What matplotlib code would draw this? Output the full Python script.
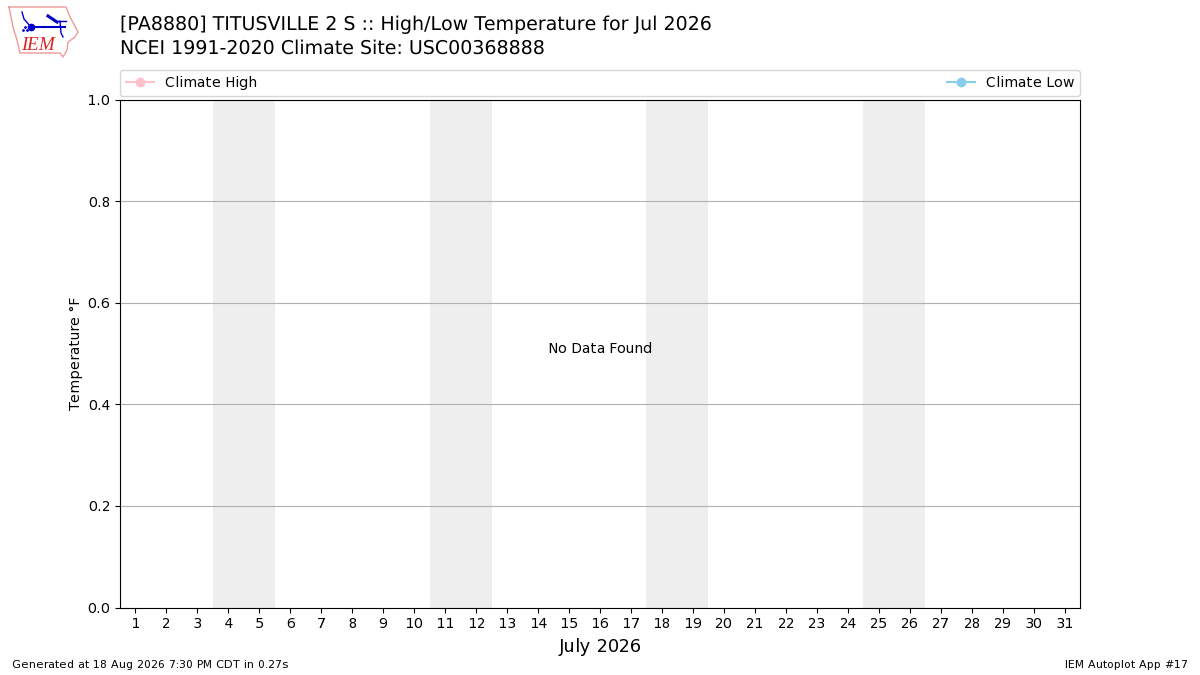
import matplotlib
matplotlib.use("Agg")
import matplotlib.pyplot as plt
from matplotlib.text import Text

plt.rcParams["text.hinting"] = "force_autohint"
plt.rcParams["text.hinting_factor"] = 1

title_lines = ["[PA8880] TITUSVILLE 2 S :: High/Low Temperature for Jul 2026",
               "NCEI 1991-2020 Climate Site: USC00368888"]
days = list(range(1, 32))
weekend_starts = [4, 11, 18, 25]
y_ticks = [0.0, 0.2, 0.4, 0.6, 0.8, 1.0]
series_names = ["Climate High", "Climate Low"]
series_colors = ["pink", "skyblue"]
series_values = [[], []]


class UnhintedText(Text):
    def draw(self, renderer):
        with plt.rc_context({"text.hinting": "no_hinting"}):
            super().draw(renderer)


fig = plt.figure(figsize=(12, 6.75), dpi=100)
ax = fig.add_axes([120/1200, 67.45/675, 960/1200, 507.8/675])

for s in weekend_starts:
    ax.axvspan(s-0.5, s+1.5, color="#eeeeee", lw=0, zorder=0)

for name, color, vals in zip(series_names, series_colors, series_values):
    ax.plot(days[:len(vals)], vals, marker="o", color=color, label=name)

ax.set_xlim(0.5, 31.5)
ax.set_ylim(0, 1)
ax.set_xticks(days)
ax.set_yticks(y_ticks)
ax.grid(axis="y", color="#b0b0b0", lw=0.8)
ax.set_axisbelow(True)
ax.set_xlabel("July 2026", fontsize=12.9, labelpad=4.5)
ax.set_ylabel("Temperature \u00b0F", labelpad=3, fontsize=9.8)
ax.text(600, 675-349, "No Data Found", transform=None, ha="center", va="center", fontsize=10)
ax.legend(loc="lower left", bbox_to_anchor=(0, 1.0075, 1, 0.05), ncol=2, mode="expand",
          borderaxespad=0, borderpad=0.43, fontsize=10)

fig.add_artist(UnhintedText(120/1200, 1-16/675, title_lines[0], fontsize=14, va="top", ha="left",
                            transform=fig.transFigure))
fig.add_artist(UnhintedText(120/1200, 1-39/675, title_lines[1], fontsize=14, va="top", ha="left",
                            transform=fig.transFigure))
fig.text(12/1200, 1-665/675, "Generated at 18 Aug 2026 7:30 PM CDT in 0.27s", fontsize=8, va="center", ha="left")
fig.text(1188/1200, 1-665/675, "IEM Autoplot App #17", fontsize=8, va="center", ha="right")

# IEM logo (pixel-space inset)
logo = fig.add_axes([0, 1-60/675, 90/1200, 60/675])
logo.set_xlim(0, 90)
logo.set_ylim(60, 0)
logo.axis("off")
ox = [9, 66, 70, 78, 75, 68, 67, 63, 60, 20, 17, 13, 9]
oy = [7, 7, 17, 32, 37, 42, 50, 57, 53, 53, 40, 27, 7]
logo.plot(ox, oy, color="#ee9999", lw=1)
logo.plot([31, 65], [27, 27], color="#0000cc", lw=1.5)
logo.plot([31], [27], "o", color="#0000cc", ms=4.5)
logo.plot([22, 24, 31], [12, 19, 27], color="#0000cc", lw=1)
logo.plot([48, 57], [16, 22], color="#0000cc", lw=2.2)
logo.plot([55, 66], [21, 21], color="#0000cc", lw=1)
logo.plot([60, 61, 63], [21, 33, 37], color="#0000cc", lw=1)
logo.plot([23, 25, 27], [30, 27, 30], ".", color="#0000cc", ms=2)
logo.text(38, 45, "IEM", family="Liberation Serif", style="italic", color="#dd2222",
          fontsize=13.5, ha="center", va="center")

fig.savefig("out.png", dpi=100)
